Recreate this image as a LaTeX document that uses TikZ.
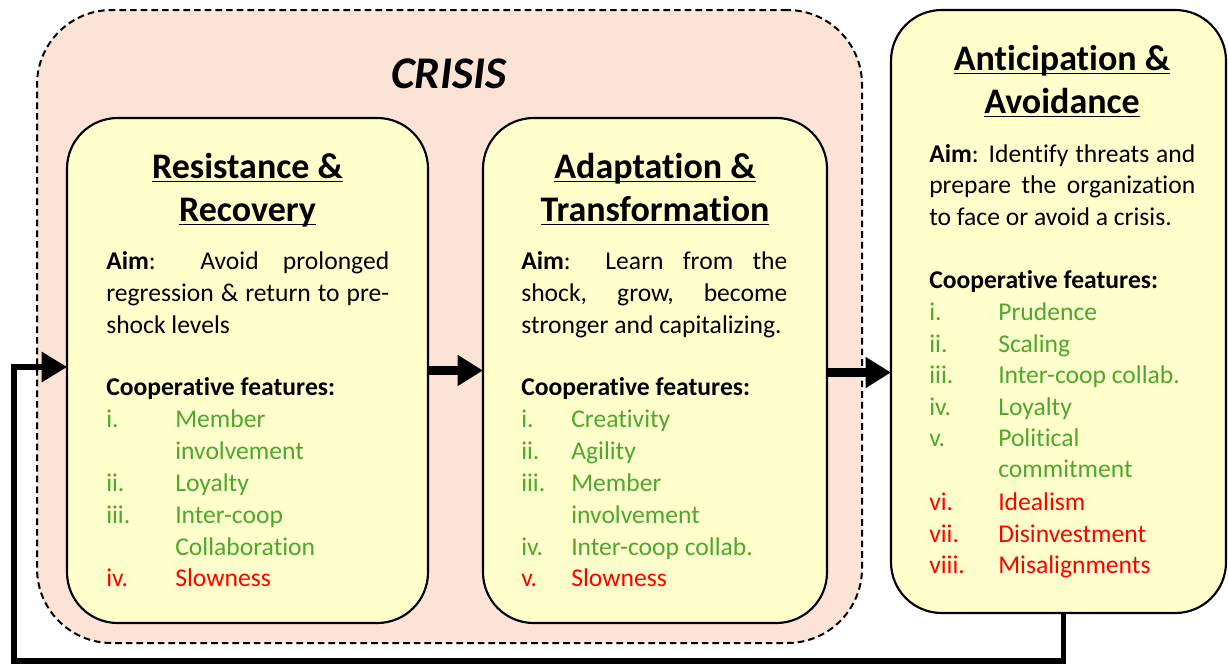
\documentclass[tikz,border=0pt]{standalone}
\usepackage{fontspec}
\setmainfont{Carlito}[Ligatures={NoCommon}]
\usetikzlibrary{arrows.meta}
\definecolor{crisisfill}{HTML}{FBE3D6}
\definecolor{boxfill}{HTML}{FFFFCC}
\definecolor{goodgreen}{HTML}{4EA72E}
\definecolor{badred}{HTML}{FF0000}
\newcommand\bodyf{\fontsize{19.2}{23}\selectfont}
\newcommand\titlef{\fontsize{27}{32}\selectfont\bfseries}
\newcommand\myul[1]{\setbox0\hbox{#1}\rlap{\rule[-3pt]{\wd0}{1.1pt}}\box0}
\newcommand\jl[2]{\makebox[#1][s]{#2}}
\tikzset{
  crisisbox/.style={draw, dash pattern=on 5pt off 3pt, line width=1.5pt, fill=crisisfill, rounded corners=56pt, inner sep=0pt, outer sep=0pt},
  stagebox/.style={draw, line width=1.6pt, fill=boxfill, rounded corners=38pt, inner sep=0pt, outer sep=0pt},
  ttl/.style={anchor=base, inner sep=0pt, font=\titlef},
  ln/.style={anchor=base west, inner sep=0pt, font=\bodyf},
  good/.style={ln, text=goodgreen},
  bad/.style={ln, text=badred},
  bigarrow/.style={line width=6.75pt, -{Triangle[length=19pt, width=22pt]}},
  fbarrow/.style={line width=3.9pt, -{Triangle[length=19pt, width=22pt]}},
}
\begin{document}
\begin{tikzpicture}[x=0.75pt,y=-0.75pt]
\useasboundingbox (0,0) rectangle (1228,665);

% crisis container
\node[crisisbox, minimum width=618.75pt, minimum height=474.75pt] (crisis) at (449.5,326.5) {};
\node[anchor=base, inner sep=0pt, font=\fontsize{34}{40}\selectfont\bfseries\itshape] (crisislbl) at (449,88) {CRISIS};

% stage boxes
\node[stagebox, minimum width=270.75pt, minimum height=378.75pt] (b1) at (247.5,370.5) {};
\node[stagebox, minimum width=258pt, minimum height=378.75pt] (b2) at (655,370.5) {};
\node[stagebox, minimum width=251.25pt, minimum height=452.25pt] (b3) at (1058.5,311.5) {};

% box 1 text
\node[ttl] (t1a) at (247.5,178) {\myul{Resistance \&}};
\node[ttl] (t1b) at (247.5,221) {\myul{Recovery}};
\node[ln] (a1a) at (106,269) {\jl{212.25pt}{\textbf{Aim}: Avoid prolonged}};
\node[ln] (a1b) at (106,301) {\jl{212.25pt}{regression \& return to pre-}};
\node[ln] (a1c) at (106,333) {shock levels};
\node[ln] (c1) at (106,395) {\textbf{Cooperative features:}};
\node[good] (n1a) at (106,427) {i.};   \node[good] (i1a) at (175,427) {Member};
\node[good] (i1b) at (175,459) {involvement};
\node[good] (n1c) at (106,491) {ii.};  \node[good] (i1c) at (175,491) {Loyalty};
\node[good] (n1d) at (106,523) {iii.}; \node[good] (i1d) at (175,523) {Inter-coop};
\node[good] (i1e) at (175,555) {Collaboration};
\node[bad] (n1f) at (106,586) {iv.};   \node[bad] (i1f) at (175,586) {Slowness};

% box 2 text
\node[ttl] (t2a) at (655,178) {\myul{Adaptation \&}};
\node[ttl] (t2b) at (655,221) {\myul{Transformation}};
\node[ln] (a2a) at (521,269) {\jl{199.5pt}{\textbf{Aim}: Learn from the}};
\node[ln] (a2b) at (521,301) {\jl{199.5pt}{shock, grow, become}};
\node[ln] (a2c) at (521,333) {stronger and capitalizing.};
\node[ln] (c2) at (521,395) {\textbf{Cooperative features:}};
\node[good] (n2a) at (521,427) {i.};   \node[good] (i2a) at (571,427) {Creativity};
\node[good] (n2b) at (521,459) {ii.};  \node[good] (i2b) at (571,459) {Agility};
\node[good] (n2c) at (521,491) {iii.}; \node[good] (i2c) at (571,491) {Member};
\node[good] (i2d) at (571,523) {involvement};
\node[good] (n2e) at (521,555) {iv.};  \node[good] (i2e) at (571,555) {Inter-coop collab.};
\node[bad] (n2f) at (521,586) {v.};    \node[bad] (i2f) at (571,586) {Slowness};

% box 3 text
\node[ttl] (t3a) at (1062,70) {\myul{Anticipation \&}};
\node[ttl] (t3b) at (1062,113) {\myul{Avoidance}};
\node[ln] (a3a) at (929,162) {\jl{199.5pt}{\textbf{Aim}: Identify threats and}};
\node[ln] (a3b) at (929,193) {\jl{199.5pt}{prepare the organization}};
\node[ln] (a3c) at (929,225) {to face or avoid a crisis.};
\node[ln] (c3) at (929,288) {\textbf{Cooperative features:}};
\node[good] (n3a) at (929,320) {i.};    \node[good] (i3a) at (998,320) {Prudence};
\node[good] (n3b) at (929,352) {ii.};   \node[good] (i3b) at (998,352) {Scaling};
\node[good] (n3c) at (929,383) {iii.};  \node[good] (i3c) at (998,383) {Inter-coop collab.};
\node[good] (n3d) at (929,415) {iv.};   \node[good] (i3d) at (998,415) {Loyalty};
\node[good] (n3e) at (929,446) {v.};    \node[good] (i3e) at (998,446) {Political};
\node[good] (i3f) at (998,477) {commitment};
\node[bad] (n3g) at (929,510) {vi.};    \node[bad] (i3g) at (998,510) {Idealism};
\node[bad] (n3h) at (929,542) {vii.};   \node[bad] (i3h) at (998,542) {Disinvestment};
\node[bad] (n3i) at (929,573) {viii.};  \node[bad] (i3i) at (998,573) {Misalignments};

% connectors
\draw[bigarrow] (b1.east) -- (b2.west);
\coordinate (a2s) at ([yshift=-1.5pt]b2.east);
\draw[bigarrow] (a2s) -- (a2s -| b3.west);
\coordinate (fb1) at (14,661);
\coordinate (fb2) at (14,367);
\draw[fbarrow, line join=miter] ([xshift=3.5pt]b3.south) |- (fb1) -- (fb2) -- (fb2 -| b1.west);
\end{tikzpicture}
\end{document}
